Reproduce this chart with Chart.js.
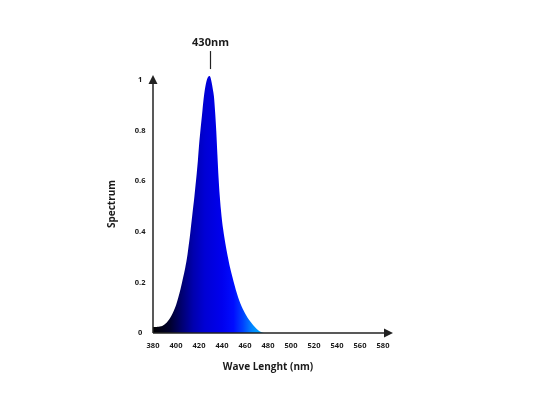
<!DOCTYPE html>
<html>
<head>
<meta charset="utf-8">
<script src="https://cdn.jsdelivr.net/npm/chart.js@4"></script>
<style>
  html, body { margin: 0; padding: 0; background: #ffffff; }
  #wrap { width: 533px; height: 400px; position: relative; }
</style>
</head>
<body>
<div id="wrap"><canvas id="c" width="533" height="400"></canvas></div>
<script>
// ---- data ----
const wavelengths = [380, 382, 384, 386, 388, 390, 392, 394, 396, 398, 400, 402, 404, 406, 408, 410, 411, 412, 413, 414,
                     415, 416, 417, 418, 419, 420, 421, 422, 423, 424, 425, 426, 427, 428, 429,
                     430, 431, 432, 433, 434, 435, 436, 437, 438, 439, 440, 441, 442, 443, 444, 445, 446, 447,
                     449, 451, 453, 455, 457, 459, 461, 463, 465, 467, 469, 471, 473, 475, 476.5];
const spectrum    = [0.024, 0.024, 0.025, 0.026, 0.028, 0.034, 0.042, 0.053, 0.068, 0.087, 0.11, 0.14, 0.175, 0.215, 0.257, 0.31, 0.345, 0.38, 0.42, 0.46,
                     0.5, 0.54, 0.585, 0.63, 0.68, 0.74, 0.79, 0.835, 0.88, 0.925, 0.96, 0.985, 1.003, 1.013, 1.016,
                     1.01, 0.99, 0.965, 0.935, 0.875, 0.8, 0.705, 0.615, 0.545, 0.49, 0.445, 0.41, 0.38, 0.352, 0.326, 0.302, 0.28, 0.259,
                     0.222, 0.188, 0.156, 0.128, 0.106, 0.087, 0.07, 0.055, 0.043, 0.032, 0.022, 0.013, 0.006, 0.002, 0];
const xTicks = [380, 400, 420, 440, 460, 480, 500, 520, 540, 560, 580];
const yTicks = [0, 0.2, 0.4, 0.6, 0.8, 1];
const yTickLabels = ['0', '0.2', '0.4', '0.6', '0.8', '1'];
const peakWavelength = 430;
const peakLabel = '430nm';
const xTitle = 'Wave Lenght (nm)';
const yTitle = 'Spectrum';

const FONT = '"Open Sans", "Liberation Sans", sans-serif';
const INK = '#1a1a1a';

const points = wavelengths.map((w, i) => ({ x: w, y: spectrum[i] }));

function fillGradient(ctx) {
  const chart = ctx.chart;
  const xs = chart.scales && chart.scales.x;
  if (!chart.chartArea || !xs) return '#0000cc';
  const x0 = xs.getPixelForValue(380);
  const x1 = xs.getPixelForValue(476);
  const g = chart.ctx.createLinearGradient(x0, 0, x1, 0);
  const stops = [
    [380, '#000000'], [395, '#00002e'], [405, '#000070'], [415, '#0000ae'],
    [425, '#0000d4'], [440, '#0000ee'], [450, '#000cff'], [458, '#0040ff'],
    [466, '#0085ff'], [476, '#00b4ff']
  ];
  stops.forEach(([w, c]) => g.addColorStop((w - 380) / (476 - 380), c));
  return g;
}

const axesPlugin = {
  id: 'arrowAxes',
  afterDatasetsDraw(chart) {
    const { ctx, chartArea, scales } = chart;
    const left = scales.x.getPixelForValue(380);
    const bottom = scales.y.getPixelForValue(0);
    const top = scales.y.getPixelForValue(1);
    ctx.save();
    ctx.strokeStyle = '#222';
    ctx.fillStyle = '#222';
    ctx.lineWidth = 1.5;
    // y axis line + arrow
    ctx.beginPath();
    ctx.moveTo(left, bottom);
    ctx.lineTo(left, top + 3);
    ctx.stroke();
    ctx.beginPath();
    ctx.moveTo(left, top - 5);
    ctx.lineTo(left - 4.5, top + 4);
    ctx.lineTo(left + 4.5, top + 4);
    ctx.closePath();
    ctx.fill();
    // x axis line + arrow
    ctx.beginPath();
    ctx.moveTo(left, bottom);
    ctx.lineTo(chartArea.right + 2, bottom);
    ctx.stroke();
    ctx.beginPath();
    ctx.moveTo(chartArea.right + 10, bottom);
    ctx.lineTo(chartArea.right + 1, bottom - 4.5);
    ctx.lineTo(chartArea.right + 1, bottom + 4.5);
    ctx.closePath();
    ctx.fill();
    // peak annotation
    const px = Math.round(scales.x.getPixelForValue(peakWavelength)) - 0.5;
    ctx.lineWidth = 1.2;
    ctx.beginPath();
    ctx.moveTo(px, top - 29);
    ctx.lineTo(px, top - 11);
    ctx.stroke();
    ctx.fillStyle = INK;
    ctx.font = 'bold 11px ' + FONT;
    ctx.textAlign = 'center';
    ctx.textBaseline = 'middle';
    ctx.fillText(peakLabel, px, top - 37);
    ctx.restore();
  }
};

new Chart(document.getElementById('c'), {
  type: 'line',
  data: {
    datasets: [{
      data: points,
      fill: 'origin',
      backgroundColor: fillGradient,
      borderWidth: 0,
      borderColor: 'rgba(0,0,0,0)',
      pointRadius: 0,
      cubicInterpolationMode: 'monotone',
      clip: false
    }]
  },
  options: {
    responsive: false,
    animation: false,
    devicePixelRatio: 1,
    layout: { padding: { top: 75, right: 150, left: 0, bottom: 0 } },
    plugins: { legend: { display: false }, tooltip: { enabled: false } },
    scales: {
      x: {
        type: 'linear',
        min: xTicks[0],
        max: xTicks[xTicks.length - 1],
        afterBuildTicks(s) { s.ticks = xTicks.map(v => ({ value: v })); },
        afterFit(s) { s.height = 67; },
        grid: { display: false, drawTicks: false },
        border: { display: false },
        ticks: { padding: 8, color: INK, font: { family: FONT, size: 7.5, weight: 'bold' }, maxRotation: 0, autoSkip: false,
                 callback: (v) => String(v) },
        title: { display: true, text: xTitle, color: INK, font: { family: FONT, size: 10, weight: 'bold' }, padding: { top: 0, bottom: 27 } }
      },
      y: {
        type: 'linear',
        min: 0,
        max: 1.02,
        afterBuildTicks(s) { s.ticks = yTicks.map(v => ({ value: v })); },
        afterFit(s) { s.width = 153; },
        grid: { display: false, drawTicks: false },
        border: { display: false },
        ticks: { padding: 7.5, crossAlign: 'center', color: INK, font: { family: FONT, size: 7.5, weight: 'bold' },
                 callback: (v) => { const i = yTicks.indexOf(v); return i >= 0 ? yTickLabels[i] : ''; } },
        title: { display: true, text: yTitle, color: INK, font: { family: FONT, size: 10, weight: 'bold' }, padding: { top: 106, bottom: 0 } }
      }
    }
  },
  plugins: [axesPlugin]
});
</script>
</body>
</html>
